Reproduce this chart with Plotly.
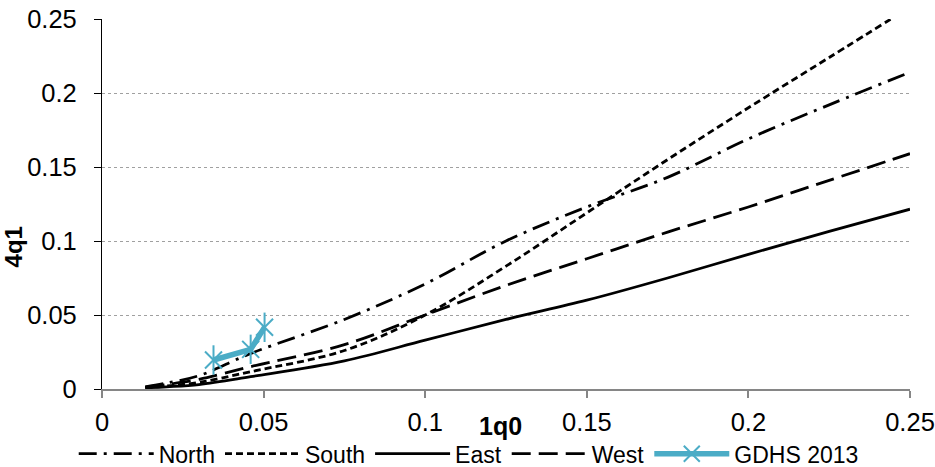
import plotly.graph_objects as go

# x values (1q0) at which the model curves were read
x_model = [0.0134, 0.02, 0.03, 0.046, 0.075, 0.1, 0.125, 0.15, 0.175, 0.2, 0.225, 0.25]
north = [0.0014, 0.004, 0.009, 0.024, 0.047, 0.071, 0.100, 0.123, 0.143, 0.169, 0.192, 0.214]
south = [0.001, 0.002, 0.0045, 0.0117, 0.026, 0.050, 0.083, 0.119, 0.155, 0.190, 0.224, 0.258]
east = [0.0008, 0.0015, 0.003, 0.0083, 0.019, 0.033, 0.047, 0.060, 0.075, 0.091, 0.1065, 0.1215]
west = [0.0013, 0.003, 0.0065, 0.0151, 0.030, 0.050, 0.070, 0.088, 0.106, 0.123, 0.141, 0.159]

gdhs_x = [0.0345, 0.046, 0.0503]
gdhs_y = [0.0196, 0.0268, 0.0417]

series_names = ["North", "South", "East", "West"]
tick_vals = [0, 0.05, 0.1, 0.15, 0.2, 0.25]
tick_text = ["0", "0.05", "0.1", "0.15", "0.2", "0.25"]

FONT = "Arial, Liberation Sans, sans-serif"
GDHS_COLOR = "#4BACC6"

styles = {
    "North": "18px,7px,3px,7px",
    "South": "7px,4px",
    "East": "solid",
    "West": "19px,8px",
}
values = {"North": north, "South": south, "East": east, "West": west}

fig = go.Figure()
for name in series_names:
    fig.add_trace(go.Scatter(
        x=x_model, y=values[name], mode="lines", name=name,
        line=dict(color="black", width=2.8, dash=styles[name], shape="spline", smoothing=1.0),
    ))

fig.add_trace(go.Scatter(
    x=gdhs_x, y=gdhs_y, mode="lines+markers", name="GDHS 2013",
    legendgroup="gdhs",
    line=dict(color=GDHS_COLOR, width=5.5),
    marker=dict(symbol="x-thin-open", size=17, color=GDHS_COLOR,
                line=dict(color=GDHS_COLOR, width=2)),
))
fig.add_trace(go.Scatter(
    x=gdhs_x, y=gdhs_y, mode="markers", showlegend=False,
    legendgroup="gdhs", hoverinfo="skip",
    marker=dict(symbol="line-ns-open", size=21, color=GDHS_COLOR,
                line=dict(color=GDHS_COLOR, width=2)),
))

fig.update_layout(
    width=935, height=467,
    margin=dict(l=101.5, r=25, t=19.3, b=78, autoexpand=False),
    paper_bgcolor="white", plot_bgcolor="white",
    font=dict(family=FONT, size=25.5, color="black"),
    showlegend=True,
    legend=dict(orientation="h", x=-0.035, xanchor="left", y=-0.175, yanchor="middle",
                font=dict(size=23), itemwidth=75, tracegroupgap=0,
                bgcolor="rgba(0,0,0,0)"),
    annotations=[
        dict(text="<b>1q0</b>", x=0.493, y=-0.1, xref="paper", yref="paper",
             xanchor="center", yanchor="middle", showarrow=False, font=dict(size=25)),
        dict(text="<b>4q1</b>", x=-0.1095, y=0.384, xref="paper", yref="paper",
             xanchor="center", yanchor="middle", textangle=-90, showarrow=False,
             font=dict(size=24)),
    ],
)

fig.update_xaxes(
    range=[0, 0.25], tickvals=tick_vals, ticktext=tick_text,
    showgrid=False, zeroline=False, automargin=False,
    showline=True, linecolor="#868686", linewidth=1.5,
    ticks="outside", ticklen=7, tickcolor="#868686", tickwidth=1.5,
    ticklabelstandoff=3,
)
fig.update_yaxes(
    range=[0, 0.25], tickvals=tick_vals, ticktext=tick_text,
    showgrid=True, gridcolor="#a0a0a0", griddash="dot", gridwidth=1,
    zeroline=False, automargin=False,
    showline=True, linecolor="black", linewidth=1.2,
    ticks="outside", ticklen=7, tickcolor="black", tickwidth=1.2,
    ticklabelstandoff=12,
)

fig.write_html("out.html")
